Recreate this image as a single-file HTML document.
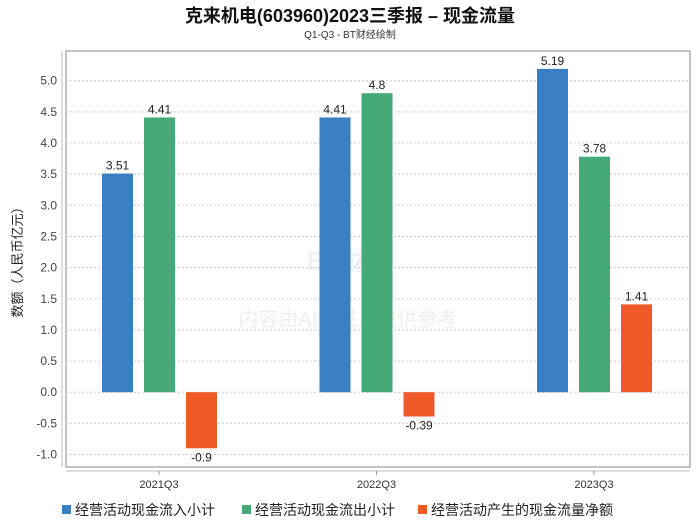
<!DOCTYPE html>
<html><head><meta charset="utf-8"><style>
body{margin:0;background:#fff;width:700px;height:524px;overflow:hidden;font-family:"Liberation Sans","Noto Sans CJK SC",sans-serif}
</style></head><body>
<svg id="c" width="700" height="524">
<text x="350" y="22" text-anchor="middle" font-size="18" font-weight="bold" fill="#111">克来机电(603960)2023三季报 – 现金流量</text>
<text x="350" y="38" text-anchor="middle" font-size="10" fill="#333">Q1-Q3 - BT财经绘制</text>
<text x="350" y="270" text-anchor="middle" font-size="26" font-weight="bold" fill="#eef1f5">BT财经</text>
<text x="348" y="326" text-anchor="middle" font-size="20" fill="#eeeeee">内容由AI生成，仅供参考</text>
<rect x="66" y="51" width="624" height="416" fill="none" stroke="#888"/>
<line x1="62" y1="51" x2="62" y2="467" stroke="#bbb"/>
<line x1="66" y1="471" x2="690" y2="471" stroke="#bbb"/>
<text transform="translate(22,259) rotate(-90)" text-anchor="middle" font-size="13" fill="#222">数额（人民币亿元）</text>
<g id="g"></g>
</svg>
<script>
const categories=["2021Q3","2022Q3","2023Q3"];
const inflow=[3.51,4.41,5.19];
const outflow=[4.41,4.8,3.78];
const net=[-0.9,-0.39,1.41];
const yTicks=[-1.0,-0.5,0.0,0.5,1.0,1.5,2.0,2.5,3.0,3.5,4.0,4.5,5.0];
const seriesNames=["经营活动现金流入小计","经营活动现金流出小计","经营活动产生的现金流量净额"];
const colors=["#3a7fc1","#46aa78","#f05a28"];
const NS="http://www.w3.org/2000/svg";
const g=document.getElementById('g');
function y(v){return 392.2-v*62.3;}
function xc(i){return 159+i*217.5;}
function mk(t,a){const e=document.createElementNS(NS,t);for(const k in a)e.setAttribute(k,a[k]);g.appendChild(e);return e;}
yTicks.forEach(v=>{
 const l=mk('line',{x1:66,x2:690,y1:y(v),y2:y(v),stroke:'#ccc','stroke-dasharray':'2,2'});
 
 
 const t=mk('text',{x:57,y:y(v)+4,'text-anchor':'end','font-size':12,fill:'#444'});
 t.textContent=v.toFixed(1);
 
 
});
const series=[inflow,outflow,net];
categories.forEach((c,i)=>{
 const tk=mk('line',{x1:xc(i),x2:xc(i),y1:471,y2:475,stroke:'#999'});
 
 
 const t=mk('text',{x:xc(i),y:488,'text-anchor':'middle','font-size':11,fill:'#333'});
 t.textContent=c;
 
 
 series.forEach((s,j)=>{
  const v=s[i];const x=xc(i)-57+j*42;
  const top=Math.min(y(v),y(0)),h=Math.abs(y(v)-y(0));
  const r=mk('rect',{x:x,y:top,width:31,height:h,fill:colors[j]});
  
  
  const lt=mk('text',{x:x+15.5,y:v>=0?top-4:top+h+13,'text-anchor':'middle','font-size':12,fill:'#222'});
  lt.textContent=String(v);
  
  
 });
});
const lx=[62,242,418];
seriesNames.forEach((n,j)=>{
 const r=mk('rect',{x:lx[j],y:505,width:9,height:9,fill:colors[j]});
 
 
 const t=mk('text',{x:lx[j]+13,y:515,'font-size':14,fill:'#222'});
 t.textContent=n;
 
 
});
</script>
</body></html>
